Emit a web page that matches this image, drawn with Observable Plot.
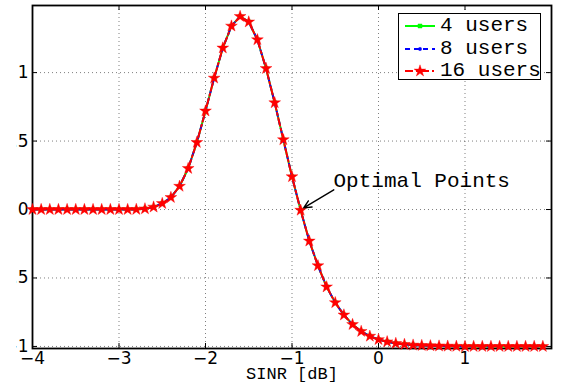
<!DOCTYPE html>
<html><head><meta charset="utf-8">
<script src="https://cdn.jsdelivr.net/npm/d3@7"></script>
<script src="https://cdn.jsdelivr.net/npm/@observablehq/plot@0.6"></script>
<style>
html,body{margin:0;padding:0;background:#fff;}
#wrap{position:relative;width:564px;height:389px;overflow:hidden;background:#fff;}
#chart{position:absolute;left:16px;top:0;width:548px;height:389px;overflow:hidden;}
#chart svg{overflow:hidden;display:block;}
#legend{position:absolute;left:398px;top:13px;width:141px;height:65px;border:1px solid #000;background:#fff;font-family:"Liberation Mono",monospace;font-size:21px;color:#000;}
.row{position:absolute;left:0;width:141px;height:22px;line-height:22px;white-space:nowrap;}
.row svg{position:absolute;left:6px;top:5px;overflow:visible;}
.row span{position:absolute;left:41px;top:0;}
</style></head>
<body>
<div id="wrap"><div id="chart"></div><div id="legend"></div></div>
<script>
// ---- data ----
const sinr = [-4.0,-3.9,-3.8,-3.7,-3.6,-3.5,-3.4,-3.3,-3.2,-3.1,-3.0,-2.9,-2.8,-2.7,-2.6,-2.5,-2.4,-2.3,-2.2,-2.1,
  -2.0,-1.9,-1.8,-1.7,-1.6,-1.5,-1.4,-1.3,-1.2,-1.1,-1.0,-0.9,-0.8,-0.7,-0.6,-0.5,-0.4,-0.3,-0.2,-0.1,
  0.0,0.1,0.2,0.3,0.4,0.5,0.6,0.7,0.8,0.9,1.0,1.1,1.2,1.3,1.4,1.5,1.6,1.7,1.8,1.9];
const users4 = [0,0,0,0,0,0,0,0,0,0,0,0,0.001,0.005,0.018,0.044,0.088,0.17,0.30,0.49,
  0.72,0.96,1.18,1.34,1.41,1.37,1.24,1.03,0.78,0.51,0.24,-0.005,-0.23,-0.41,-0.565,-0.68,-0.77,-0.84,-0.89,-0.925,
  -0.95,-0.966,-0.978,-0.985,-0.99,-0.993,-0.995,-0.997,-0.998,-0.999,-1,-1,-1,-1,-1,-1,-1,-1,-1,-1];
const users8 = [0,0,0,0,0,0,0,0,0,0,0,0,0.001,0.005,0.018,0.044,0.088,0.17,0.30,0.49,
  0.72,0.96,1.18,1.34,1.41,1.37,1.24,1.03,0.78,0.51,0.24,-0.005,-0.23,-0.41,-0.565,-0.68,-0.77,-0.84,-0.89,-0.925,
  -0.95,-0.966,-0.978,-0.985,-0.99,-0.993,-0.995,-0.997,-0.998,-0.999,-1,-1,-1,-1,-1,-1,-1,-1,-1,-1];
const users16 = [0,0,0,0,0,0,0,0,0,0,0,0,0.001,0.005,0.018,0.044,0.088,0.17,0.30,0.49,
  0.72,0.96,1.18,1.34,1.41,1.37,1.24,1.03,0.78,0.51,0.24,-0.005,-0.23,-0.41,-0.565,-0.68,-0.77,-0.84,-0.89,-0.925,
  -0.95,-0.966,-0.978,-0.985,-0.99,-0.993,-0.995,-0.997,-0.998,-0.999,-1,-1,-1,-1,-1,-1,-1,-1,-1,-1];
const seriesNames = ["4 users", "8 users", "16 users"];
const xTicks = [-4, -3, -2, -1, 0, 1];
const yTicks = [-1, -0.5, 0, 0.5, 1];
const xLabel = "SINR [dB]";
const annotation = {x: -0.52, y: 0.212, text: "Optimal Points"};
const arrowSpec = {x1: -0.517, y1: 0.144, x2: -0.865, y2: 0.012};

// ---- styles ----
const styles = [
  {color: "#00ff00", dash: null, symbol: "square", r: 2.3},
  {color: "#0000ff", dash: "5,4", symbol: "circle", r: 1.7},
  {color: "#ff0000", dash: "8,3,2,3", symbol: "star", r: 3.7}
];
const seriesValues = [users4, users8, users16];
const tables = seriesValues.map(vals => sinr.map((x, i) => ({x, y: vals[i]})));
const fmt = d => String(d).replace("-", "\u2212");

const W = 548, H = 389, mL = 16, mR = 13, mT = 5, mB = 41;
const fw = W - mL - mR, fh = H - mT - mB, tl = 5;

const seriesMarks = tables.flatMap((t, i) => [
  Plot.line(t, {x: "x", y: "y", stroke: styles[i].color, strokeWidth: 2, strokeDasharray: styles[i].dash}),
  Plot.dot(t, {x: "x", y: "y", symbol: styles[i].symbol, r: styles[i].r, fill: styles[i].color, stroke: styles[i].color, strokeWidth: 0.4})
]);

const chart = Plot.plot({
  width: W, height: H, marginLeft: mL, marginRight: mR, marginTop: mT, marginBottom: mB,
  style: {fontFamily: "DejaVu Sans", fontSize: "17px", color: "black", background: "white", overflow: "hidden"},
  x: {domain: [-4, 2], label: null},
  y: {domain: [-1.015, 1.49], label: null},
  marks: [
    Plot.gridX(xTicks, {stroke: "#000", strokeOpacity: 0.5, strokeDasharray: "1,3"}),
    Plot.gridY(yTicks, {stroke: "#000", strokeOpacity: 0.5, strokeDasharray: "1,3"}),
    Plot.ruleX(xTicks, {x: d => d, insetTop: fh - tl, stroke: "black"}),
    Plot.ruleX(xTicks, {x: d => d, insetBottom: fh - tl, stroke: "black"}),
    Plot.ruleY(yTicks, {y: d => d, insetRight: fw - tl, stroke: "black"}),
    Plot.ruleY(yTicks, {y: d => d, insetLeft: fw - tl, stroke: "black"}),
    Plot.axisX(xTicks, {tickSize: 0, tickPadding: 3, fontSize: 17, label: null, tickFormat: fmt}),
    Plot.axisY(yTicks, {tickSize: 0, tickPadding: 4, fontSize: 17, label: null, tickFormat: fmt}),
    Plot.frame({stroke: "black", strokeWidth: 1.8}),
    ...seriesMarks,
    Plot.text([xLabel], {text: d => d, frameAnchor: "bottom", dy: 30, fontFamily: "Liberation Mono", fontSize: 17}),
    Plot.text([annotation], {x: "x", y: "y", text: "text", textAnchor: "start", fontFamily: "Liberation Mono", fontSize: 21}),
    Plot.arrow([arrowSpec], {x1: "x1", y1: "y1", x2: "x2", y2: "y2", stroke: "black", strokeWidth: 1.4, headLength: 9, headAngle: 50})
  ]
});
document.getElementById("chart").appendChild(chart);

// ---- legend ----
const legend = document.getElementById("legend");
const rowTops = [1, 24, 46];
seriesNames.forEach((name, i) => {
  const row = document.createElement("div");
  row.className = "row";
  row.style.top = rowTops[i] + "px";
  const s = styles[i];
  const sym = {square: d3.symbolSquare, circle: d3.symbolCircle, star: d3.symbolStar}[s.symbol];
  const path = d3.symbol(sym, Math.PI * s.r * s.r)();
  row.innerHTML = `<svg width="30" height="12"><line x1="0" x2="30" y1="6" y2="6" stroke="${s.color}" stroke-width="2" ${s.dash ? `stroke-dasharray="${s.dash}"` : ""}/><path transform="translate(15,6)" d="${path}" fill="${s.color}" stroke="${s.color}" stroke-width="0.4"/></svg><span>${name}</span>`;
  legend.appendChild(row);
});
</script>
</body></html>
